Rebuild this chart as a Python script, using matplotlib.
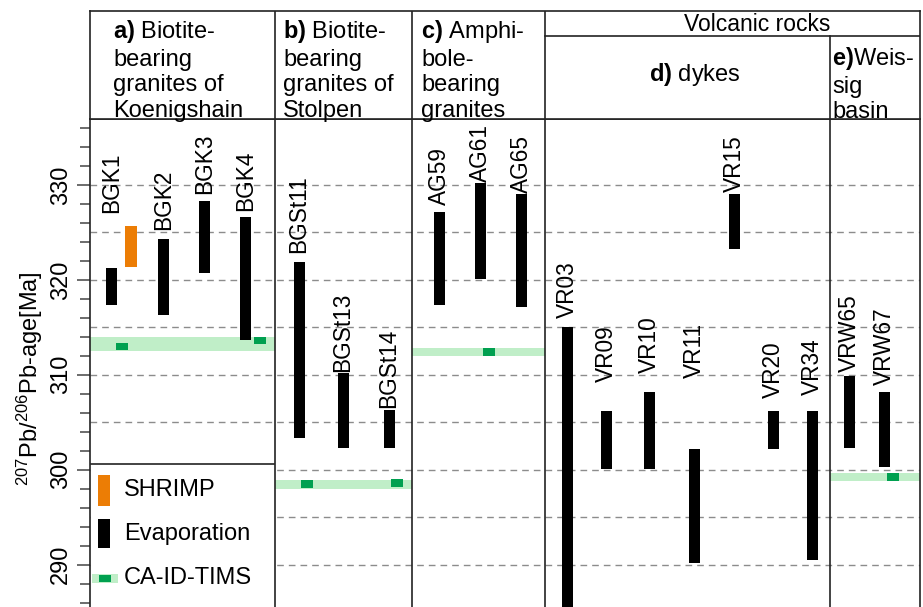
import matplotlib.pyplot as plt
import matplotlib.patches as mpatches
import numpy as np

plt.rcParams['font.family'] = ['Liberation Sans', 'DejaVu Sans']
plt.rcParams['mathtext.fontset'] = 'custom'
plt.rcParams['mathtext.rm'] = 'Liberation Sans'
plt.rcParams['mathtext.it'] = 'Liberation Sans:italic'
plt.rcParams['mathtext.bf'] = 'Liberation Sans:bold'

# --- data: 207Pb/206Pb ages in Ma ---
evap_names = ['BGK1', 'BGK2', 'BGK3', 'BGK4',
              'BGSt11', 'BGSt13', 'BGSt14',
              'AG59', 'AG61', 'AG65',
              'VR03', 'VR09', 'VR10', 'VR11', 'VR15', 'VR20', 'VR34',
              'VRW65', 'VRW67']
evap_min = [317.3, 316.3, 320.7, 313.7,
            303.3, 302.3, 302.3,
            317.3, 320.1, 317.1,
            284.0, 300.1, 300.1, 290.2, 323.2, 302.2, 290.5,
            302.3, 300.3]
evap_max = [321.3, 324.3, 328.3, 326.6,
            321.9, 310.2, 306.3,
            327.2, 330.2, 329.05,
            315.0, 306.2, 308.2, 302.2, 329.1, 306.2, 306.2,
            309.9, 308.2]
label_age = [327.0, 325.3, 329.1, 327.3,
             322.8, 310.3, 306.5,
             327.9, 330.35, 329.2,
             316.0, 309.2, 310.2, 309.7, 329.3, 307.6, 307.9,
             310.3, 308.9]

shrimp_min = [321.4]
shrimp_max = [325.7]

tims_band_min = [312.5, 298.0, 312.0, 298.8]
tims_band_max = [314.0, 298.9, 312.8, 299.65]
tims_ages = [313.0, 313.6, 298.5, 298.6, 312.4, 299.2]

# --- layout (horizontal slots, in pixel-like units across the panels) ---
panel_edges = [0, 185, 322, 455, 740, 830]
band_panel = [0, 1, 2, 4]
evap_x = [21.7, 73.5, 114.5, 155.3,
          209, 253, 299,
          349.5, 390, 431,
          477.3, 516.5, 559.5, 604, 644.5, 683.5, 722.5,
          759, 794.5]
shrimp_x = [41]
tims_x = [32, 170, 217, 307, 399, 803]

ORANGE = '#EC7D05'
DARKGREEN = '#00A050'
LIGHTGREEN = '#C0EEC8'
LINE = '#222222'

W, H = 923, 607
fig = plt.figure(figsize=(W / 100, H / 100), dpi=100)

# main plotting area
ax = fig.add_axes([90 / W, 0, 830 / W, (H - 119) / H])
ax.set_xlim(0, 830)
ax.set_ylim(285.53, 336.95)

for v in np.arange(290, 331, 5):
    ax.axhline(v, color='#8c8c8c', lw=1.0, dashes=(4.8, 3.6), zorder=1)

for p, lo, hi in zip(band_panel, tims_band_min, tims_band_max):
    ax.fill_between([panel_edges[p], panel_edges[p + 1]], lo, hi,
                    color=LIGHTGREEN, lw=0, zorder=2)

ax.bar(evap_x, np.array(evap_max) - np.array(evap_min), bottom=evap_min,
       width=11, color='black', zorder=3)
ax.bar(shrimp_x, np.array(shrimp_max) - np.array(shrimp_min), bottom=shrimp_min,
       width=12, color=ORANGE, zorder=3)
ax.bar(tims_x, 0.8, bottom=np.array(tims_ages) - 0.4,
       width=12, color=DARKGREEN, zorder=4)

for x, y, name in zip(evap_x, label_age, evap_names):
    ax.text(x, y, name, rotation=90, ha='center', va='bottom', fontsize=16.3, zorder=5)

for e in panel_edges[1:-1]:
    ax.axvline(e, color=LINE, lw=1.2, zorder=6)

ax.set_xticks([])
ax.set_yticks(np.arange(290, 331, 10))
ax.set_yticks(np.arange(286, 337, 2), minor=True)
ax.tick_params(axis='y', which='major', length=9.4, width=1.1, color='#444444',
               labelsize=17, labelrotation=90, pad=3.6)
ax.tick_params(axis='y', which='minor', length=7.2, width=1.1, color='#444444')
for lab in ax.get_yticklabels():
    lab.set_va('center')
ax.spines['bottom'].set_visible(False)
for s in ['left', 'right', 'top']:
    ax.spines[s].set_color(LINE)
    ax.spines[s].set_linewidth(1.2)

fig.text(30 / W, 1 - 379 / H, r'$^{207}$Pb/$^{206}$Pb-age[Ma]', rotation=90,
         ha='center', va='center', fontsize=17)

# header boxes
hx = fig.add_axes([90 / W, (H - 119) / H, 830 / W, 108 / H])
hx.set_xlim(0, 830)
hx.set_ylim(108, 0)
hx.set_xticks([])
hx.set_yticks([])
for s in hx.spines.values():
    s.set_color(LINE)
    s.set_linewidth(1.2)
for e in panel_edges[1:4]:
    hx.plot([e, e], [0, 108], color=LINE, lw=1.2)
hx.plot([panel_edges[4], panel_edges[4]], [25, 108], color=LINE, lw=1.2)
hx.plot([panel_edges[3], panel_edges[5]], [25, 25], color=LINE, lw=1.2)

hfs = 17
hx.text(23, 7, '$\\mathbf{a)}$ Biotite-\nbearing\ngranites of\nKoenigshain',
        ha='left', va='top', fontsize=hfs, linespacing=1.22)
hx.text(193, 7, '$\\mathbf{b)}$ Biotite-\nbearing\ngranites of\nStolpen',
        ha='left', va='top', fontsize=hfs, linespacing=1.22)
hx.text(331, 7, '$\\mathbf{c)}$ Amphi-\nbole-\nbearing\ngranites',
        ha='left', va='top', fontsize=hfs, linespacing=1.22)
hx.text(667, 20, 'Volcanic rocks', ha='center', va='baseline', fontsize=16.5)
hx.text(605, 70, '$\\mathbf{d)}$ dykes', ha='center', va='baseline', fontsize=hfs)
hx.text(742, 34, '$\\mathbf{e)}$Weis-\nsig\nbasin',
        ha='left', va='top', fontsize=hfs, linespacing=1.22)

# legend box in panel a
lx = fig.add_axes([91 / W, 0, 183 / W, (H - 464) / H], zorder=5)
lx.set_xlim(1, 184)
lx.set_ylim(143, 0)
lx.set_xticks([])
lx.set_yticks([])
for s in ['left', 'right', 'bottom']:
    lx.spines[s].set_visible(False)
lx.spines['top'].set_color(LINE)
lx.spines['top'].set_linewidth(1.2)

lx.add_patch(mpatches.Rectangle((7.7, 11), 12.3, 30.7, color=ORANGE, lw=0))
lx.add_patch(mpatches.Rectangle((7.7, 55), 12.3, 28.7, color='black', lw=0))
lx.add_patch(mpatches.Rectangle((1.7, 110.3), 26.6, 8.4, color=LIGHTGREEN, lw=0))
lx.add_patch(mpatches.Rectangle((9, 111), 12, 7.3, color=DARKGREEN, lw=0))
lx.text(34, 26, 'SHRIMP', ha='left', va='center', fontsize=17)
lx.text(34, 70, 'Evaporation', ha='left', va='center', fontsize=17)
lx.text(34, 114, 'CA-ID-TIMS', ha='left', va='center', fontsize=17)

fig.savefig('out.png', dpi=100)
